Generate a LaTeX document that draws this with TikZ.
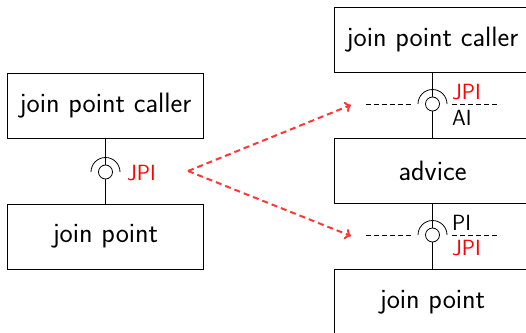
\documentclass[tikz,border=0pt]{standalone}
\usetikzlibrary{arrows.meta}
\definecolor{arrowred}{RGB}{255,55,55}
\begin{document}
\begin{tikzpicture}[x=1pt,y=-1pt,
  box/.style={draw, line width=0.9pt, minimum width=196pt, minimum height=65pt, inner sep=0pt,
    font=\sffamily\fontsize{28}{33}\selectfont},
  lbl/.style={font=\sffamily\fontsize{22}{26}\selectfont, inner sep=0pt, anchor=west},
  wire/.style={line width=0.8pt},
  ball/.style={draw, line width=0.8pt, fill=white, circle, minimum size=14pt, inner sep=0pt},
  sockarc/.style={line width=0.8pt},
  guide/.style={dashed, line width=0.7pt, dash pattern=on 5pt off 3pt},
  jparrow/.style={arrowred, line width=2pt, dash pattern=on 6pt off 4pt, -{To[length=6pt,width=11pt]}}
]
\useasboundingbox (0,0) rectangle (526,332);
% left
\node[box] (lc) at (105.5,105.5) {join point caller};
\node[box] (lj) at (105.5,236.5) {join point};
\coordinate (ls) at (105.5,172);
\draw[wire] (lc.south) -- (lj.north);
\node[ball] (lb) at (ls) {};
\draw[sockarc] ([xshift=14.5pt]ls) arc[start angle=0, end angle=180, radius=14.5pt];
\node[lbl, text=red] (ljpi) at (127,173) {JPI};
% right
\node[box] (rc) at (432.5,40) {join point caller};
\node[box] (ad) at (432.5,171) {advice};
\node[box] (rj) at (432.5,302) {join point};
\coordinate (s1) at (432.5,104);
\coordinate (s2) at (432.5,235);
\draw[wire] (rc.south) -- (ad.north);
\draw[wire] (ad.south) -- (rj.north);
\node[ball] (b1) at (s1) {};
\node[ball] (b2) at (s2) {};
\draw[sockarc] ([xshift=14.5pt]s1) arc[start angle=0, end angle=180, radius=14.5pt];
\draw[sockarc] ([xshift=14.5pt]s2) arc[start angle=0, end angle=180, radius=14.5pt];
\coordinate (g1a) at (366,104); \coordinate (g1b) at (412,104);
\coordinate (g1c) at (452,104); \coordinate (g1d) at (500,104);
\coordinate (g2a) at (366,235); \coordinate (g2b) at (412,235);
\coordinate (g2c) at (452,235); \coordinate (g2d) at (500,235);
\draw[guide] (g1a) -- (g1b);
\draw[guide] (g1c) -- (g1d);
\draw[guide] (g2a) -- (g2b);
\draw[guide] (g2c) -- (g2d);
\node[lbl, text=red] (t1) at (452,92) {JPI};
\node[lbl] (t2) at (452,118) {AI};
\node[lbl] (t3) at (452,223) {PI};
\node[lbl, text=red] (t4) at (452,248) {JPI};
% arrows
\coordinate (a0) at (188,171);
\coordinate (a1) at (351,105);
\coordinate (a2) at (351,236);
\draw[jparrow] (a0) -- (a1);
\draw[jparrow] (a0) -- (a2);
\end{tikzpicture}
\end{document}
